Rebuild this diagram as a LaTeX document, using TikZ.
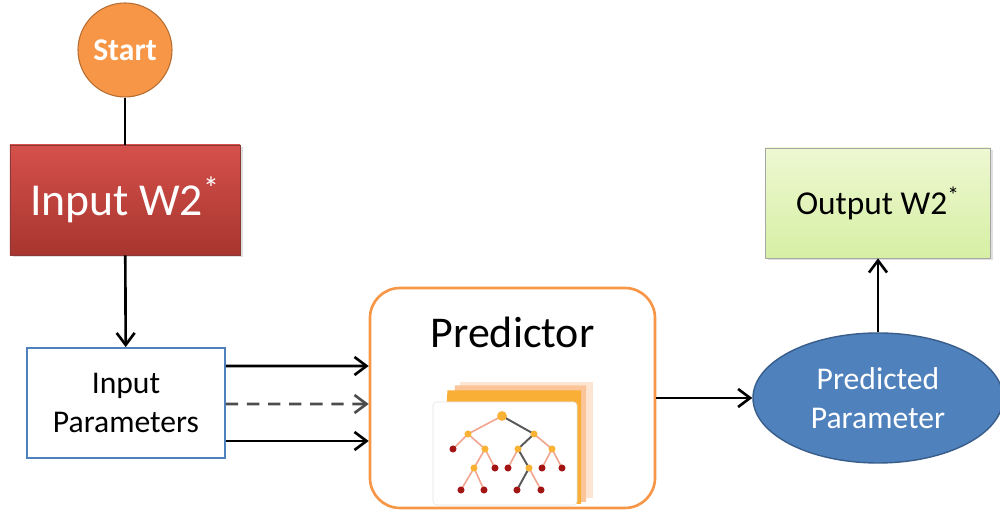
\documentclass[tikz,border=0pt]{standalone}
\usepackage{fontspec}
\setmainfont{Carlito}
\usepackage{tikz}
\usetikzlibrary{arrows.meta, shapes.geometric, shadows}

\definecolor{startorange}{HTML}{F79646}
\definecolor{startedge}{HTML}{B66D31}
\definecolor{boxred}{HTML}{C0504D}
\definecolor{redtop}{HTML}{D5504B}
\definecolor{redbottom}{HTML}{A8352F}
\definecolor{rededge}{HTML}{8C3836}
\definecolor{greentop}{HTML}{EEF8D2}
\definecolor{greenbottom}{HTML}{D6EFA4}
\definecolor{paramblue}{HTML}{4F81BD}
\definecolor{blueedge}{HTML}{385D8A}
\definecolor{leafred}{HTML}{A31515}
\definecolor{branchpink}{HTML}{F2A58E}
\definecolor{innergold}{HTML}{F9B233}

\begin{document}
\begin{tikzpicture}[
		flow/.style={line width=1.5pt, -{Straight Barb[length=2.4mm, width=3.6mm, line width=1.5pt]}},
		branch/.style={branchpink, line width=0.9pt},
		trunk/.style={black!65, line width=1.1pt}
	]
			\useasboundingbox (0,0) rectangle (20,10.26);
			
			% Start
			\node[circle, minimum size=1.88cm, fill=startorange, draw=startedge, line width=0.6pt,
				text=white, font=\bfseries\fontsize{18}{20}\selectfont] (start) at (2.5,9.26) {Start};
			
			% Input W2*
			\node[rectangle, minimum width=4.6cm, minimum height=2.2cm, draw=rededge,
				top color=redtop, bottom color=redbottom,
				drop shadow={opacity=0.25, shadow xshift=0.05cm, shadow yshift=-0.05cm},
				text=white, font=\fontsize{26}{30}\selectfont] (inw) at (2.5,6.26) {Input W2\textsuperscript{*}};
			
			% Input Parameters
			\node[rectangle, minimum width=3.96cm, minimum height=2.2cm, draw=paramblue, line width=1pt,
				fill=white, align=center, font=\fontsize{18}{22}\selectfont] (inpar) at (2.52,2.2) {Input\\Parameters};
			
			% Predictor
			\node[rectangle, rounded corners=0.6cm, minimum width=5.7cm, minimum height=4.4cm,
				draw=startorange, line width=1.5pt, fill=white] (pred) at (10.25,2.3) {};
			\node[font=\fontsize{25}{28}\selectfont] (predlabel) at (10.25,3.62) {Predictor};
			
			% Tree icon: stacked cards
			\fill[startorange!25] (9.2,0.3) -- (9.2,2.62) -- (11.86,2.62) -- (11.86,0.3) -- cycle;
			\fill[startorange!55] (9.0,0.22) -- (9.1,2.55) -- (11.72,2.55) -- (11.72,0.22) -- cycle;
			\fill[innergold!85!startorange] (8.8,0.18) -- (8.95,2.45) -- (11.62,2.45) -- (11.62,0.18) -- cycle;
			\filldraw[white, draw=black!10, rounded corners=2pt] (8.66,0.16) rectangle (11.54,2.22);
			
			% Tree points
			\coordinate (r) at (10.04,1.94);
			\coordinate (a) at (9.36,1.58);
			\coordinate (b) at (10.68,1.58);
			\coordinate (a1) at (9.06,1.28);
			\coordinate (a2) at (9.70,1.28);
			\coordinate (b1) at (10.36,1.28);
			\coordinate (b2) at (11.04,1.28);
			\coordinate (a21) at (9.48,0.90);
			\coordinate (a22) at (9.90,0.90);
			\coordinate (b11) at (10.16,0.90);
			\coordinate (b12) at (10.58,0.90);
			\coordinate (b21) at (10.84,0.90);
			\coordinate (b22) at (11.24,0.90);
			\coordinate (a211) at (9.22,0.46);
			\coordinate (a212) at (9.68,0.46);
			\coordinate (b121) at (10.34,0.46);
			\coordinate (b122) at (10.82,0.46);
			
			% Tree branches
			\foreach \p/\c in {r/a, a/a1, a/a2, a2/a21, a2/a22, a21/a211, a21/a212,
				b/b2, b1/b11, b12/b122, b2/b21, b2/b22} {
				\draw[branch] (\p) -- (\c);
			}
			\foreach \p/\c in {r/b, b/b1, b1/b12, b12/b121} {
				\draw[trunk] (\p) -- (\c);
			}
			
			% Tree nodes
			\fill[innergold] (r) circle (2.8pt);
			\foreach \n in {a, b, a2, b1, b2, a21, b12} {
				\fill[innergold] (\n) circle (2pt);
			}
			\foreach \n in {a1, a22, b11, b21, b22, a211, a212, b121, b122} {
				\fill[leafred] (\n) circle (2pt);
			}
			
			% Predicted Parameter
			\node[ellipse, minimum width=5.0cm, minimum height=2.6cm, fill=paramblue, draw=blueedge,
				line width=0.8pt, text=white, align=center, font=\fontsize{18}{22}\selectfont] (predpar) at (17.56,2.3) {Predicted\\Parameter};
			
			% Output W2*
			\node[rectangle, minimum width=4.5cm, minimum height=2.2cm, draw=black!35,
				top color=greentop, bottom color=greenbottom,
				drop shadow={opacity=0.25, shadow xshift=0.05cm, shadow yshift=-0.05cm},
				font=\fontsize{19}{22}\selectfont] (outw) at (17.56,6.2) {Output W2\textsuperscript{*}};
			
			% Connectors
			\draw[line width=1.5pt] (start) -- (inw);
			\draw[flow] (inw) -- (inpar);
			\draw[flow] ([yshift=0.74cm]inpar.east) -- ([yshift=0.64cm]pred.west);
			\draw[flow, black!70, dash pattern=on 7pt off 5pt] ([yshift=-0.02cm]inpar.east) -- ([yshift=-0.12cm]pred.west);
			\draw[flow] ([yshift=-0.76cm]inpar.east) -- ([yshift=-0.86cm]pred.west);
			\draw[flow] (pred) -- (predpar);
			\draw[flow] (predpar) -- (outw);
			
		\end{tikzpicture}
\end{document}
